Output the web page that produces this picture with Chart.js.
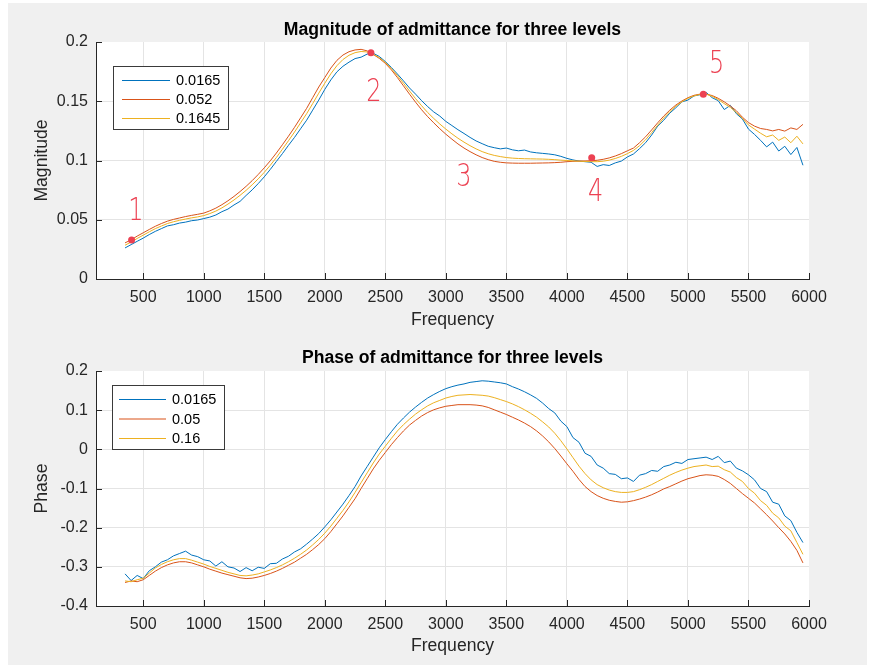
<!DOCTYPE html>
<html><head><meta charset="utf-8">
<script src="https://cdn.jsdelivr.net/npm/chart.js@4.4.1/dist/chart.umd.min.js"></script>
<style>
html,body{margin:0;padding:0;background:#fff;width:873px;height:665px;overflow:hidden}
#fig{position:absolute;left:8px;top:3px;width:859px;height:662px;background:#f0f0f0}
#c1{position:absolute;left:0;top:0}
#c2{position:absolute;left:0;top:333px}
</style></head><body>
<div id="fig"></div>
<canvas id="c1" width="873" height="333"></canvas>
<canvas id="c2" width="873" height="332"></canvas>
<script>
// ---------------- data ----------------
const FREQ = [
 350,400,450,500,550,600,650,700,750,800,
 850,900,950,1000,1050,1100,1150,1200,1250,1300,
 1350,1400,1450,1500,1550,1600,1650,1700,1750,1800,
 1850,1900,1950,2000,2050,2100,2150,2200,2250,2300,
 2350,2400,2450,2500,2550,2600,2650,2700,2750,2800,
 2850,2900,2950,3000,3050,3100,3150,3200,3250,3300,
 3350,3400,3450,3500,3550,3600,3650,3700,3750,3800,
 3850,3900,3950,4000,4050,4100,4150,4200,4250,4300,
 4350,4400,4450,4500,4550,4600,4650,4700,4750,4800,
 4850,4900,4950,5000,5050,5100,5150,5200,5250,5300,
 5350,5400,5450,5500,5550,5600,5650,5700,5750,5800,
 5850,5900,5950];

const MAG_LEGEND = ['0.0165', '0.052', '0.1645'];
const PH_LEGEND = ['0.0165', '0.05', '0.16'];

const MAG_A = [
 0.0262,0.0290,0.0318,0.0345,0.0375,0.0402,0.0425,0.0448,0.0458,0.0472,
 0.0480,0.0492,0.0498,0.0510,0.0522,0.0540,0.0568,0.0590,0.0625,0.0655,
 0.0705,0.0752,0.0805,0.0862,0.0925,0.0992,0.1058,0.1128,0.1195,0.1268,
 0.1340,0.1425,0.1510,0.1600,0.1680,0.1748,0.1795,0.1830,0.1860,0.1872,
 0.1898,0.1905,0.1878,0.1835,0.1785,0.1730,0.1672,0.1612,0.1560,0.1505,
 0.1455,0.1410,0.1375,0.1330,0.1295,0.1260,0.1228,0.1195,0.1165,0.1142,
 0.1120,0.1108,0.1098,0.1105,0.1090,0.1082,0.1088,0.1072,0.1065,0.1060,
 0.1055,0.1048,0.1035,0.1018,0.1005,0.0995,0.0990,0.0985,0.0950,0.0965,
 0.0958,0.0980,0.0995,0.1030,0.1055,0.1100,0.1150,0.1215,0.1290,0.1340,
 0.1400,0.1445,0.1495,0.1510,0.1545,0.1555,0.1575,0.1530,0.1505,0.1430,
 0.1465,0.1395,0.1350,0.1265,0.1220,0.1170,0.1115,0.1155,0.1080,0.1120,
 0.1050,0.1110,0.0960];

const MAG_B = [
 0.0305,0.0330,0.0362,0.0390,0.0418,0.0445,0.0468,0.0488,0.0503,0.0515,
 0.0527,0.0537,0.0546,0.0556,0.0575,0.0598,0.0627,0.0660,0.0697,0.0738,
 0.0782,0.0830,0.0882,0.0938,0.0998,0.1063,0.1133,0.1205,0.1280,0.1360,
 0.1440,0.1530,0.1620,0.1700,0.1780,0.1845,0.1890,0.1918,0.1933,0.1938,
 0.1925,0.1895,0.1862,0.1820,0.1765,0.1700,0.1630,0.1560,0.1492,0.1428,
 0.1370,0.1318,0.1268,0.1222,0.1180,0.1140,0.1105,0.1075,0.1048,0.1025,
 0.1007,0.0993,0.0985,0.0980,0.0978,0.0977,0.0977,0.0977,0.0978,0.0979,
 0.0980,0.0982,0.0985,0.0990,0.0993,0.0995,0.0996,0.0998,0.1002,0.1010,
 0.1022,0.1038,0.1058,0.1082,0.1105,0.1150,0.1200,0.1258,0.1318,0.1375,
 0.1425,0.1468,0.1502,0.1530,0.1550,0.1560,0.1560,0.1548,0.1525,0.1495,
 0.1460,0.1420,0.1365,0.1320,0.1290,0.1270,0.1262,0.1250,0.1262,0.1248,
 0.1275,0.1262,0.1305];

const MAG_C = [
 0.0285,0.0312,0.0342,0.0370,0.0398,0.0425,0.0447,0.0468,0.0483,0.0495,
 0.0506,0.0516,0.0524,0.0535,0.0552,0.0573,0.0600,0.0632,0.0667,0.0706,
 0.0748,0.0795,0.0845,0.0900,0.0960,0.1025,0.1095,0.1167,0.1240,0.1318,
 0.1395,0.1480,0.1568,0.1652,0.1732,0.1800,0.1852,0.1888,0.1910,0.1920,
 0.1916,0.1898,0.1868,0.1828,0.1776,0.1716,0.1652,0.1586,0.1522,0.1462,
 0.1405,0.1355,0.1308,0.1265,0.1225,0.1188,0.1155,0.1125,0.1098,0.1075,
 0.1057,0.1043,0.1033,0.1025,0.1020,0.1017,0.1015,0.1014,0.1013,0.1012,
 0.1010,0.1007,0.1003,0.1000,0.0997,0.0994,0.0992,0.0990,0.0990,0.0994,
 0.1003,0.1017,0.1035,0.1058,0.1085,0.1125,0.1175,0.1235,0.1298,0.1358,
 0.1412,0.1458,0.1495,0.1525,0.1545,0.1558,0.1560,0.1542,0.1515,0.1480,
 0.1448,0.1405,0.1355,0.1300,0.1265,0.1230,0.1200,0.1215,0.1170,0.1198,
 0.1150,0.1205,0.1140];

const PH_A = [
 -0.318,-0.335,-0.322,-0.330,-0.310,-0.300,-0.288,-0.282,-0.272,-0.266,
 -0.260,-0.270,-0.274,-0.282,-0.285,-0.298,-0.287,-0.300,-0.303,-0.312,
 -0.302,-0.310,-0.301,-0.304,-0.292,-0.291,-0.280,-0.273,-0.262,-0.254,
 -0.242,-0.229,-0.215,-0.198,-0.180,-0.160,-0.140,-0.118,-0.095,-0.068,
 -0.044,-0.020,0.004,0.025,0.045,0.064,0.080,0.095,0.108,0.120,
 0.131,0.140,0.148,0.155,0.160,0.164,0.167,0.171,0.173,0.175,
 0.174,0.172,0.170,0.167,0.160,0.154,0.147,0.139,0.130,0.118,
 0.104,0.093,0.072,0.058,0.030,0.018,-0.010,-0.018,-0.040,-0.048,
 -0.062,-0.064,-0.075,-0.073,-0.082,-0.066,-0.062,-0.054,-0.056,-0.044,
 -0.040,-0.033,-0.036,-0.026,-0.024,-0.022,-0.020,-0.026,-0.018,-0.034,
 -0.030,-0.048,-0.055,-0.065,-0.078,-0.100,-0.108,-0.135,-0.140,-0.170,
 -0.182,-0.212,-0.238];

const PH_B = [
 -0.340,-0.336,-0.338,-0.333,-0.322,-0.311,-0.302,-0.295,-0.290,-0.287,
 -0.287,-0.290,-0.295,-0.300,-0.306,-0.311,-0.316,-0.320,-0.324,-0.328,
 -0.330,-0.329,-0.326,-0.322,-0.317,-0.311,-0.304,-0.296,-0.288,-0.278,
 -0.268,-0.256,-0.243,-0.228,-0.210,-0.190,-0.170,-0.148,-0.126,-0.100,
 -0.075,-0.050,-0.028,-0.008,0.012,0.030,0.047,0.062,0.074,0.085,
 0.094,0.101,0.106,0.110,0.112,0.114,0.114,0.114,0.113,0.111,
 0.107,0.101,0.095,0.089,0.082,0.075,0.067,0.058,0.047,0.034,
 0.019,0.002,-0.017,-0.037,-0.056,-0.077,-0.095,-0.108,-0.118,-0.125,
 -0.130,-0.133,-0.135,-0.134,-0.131,-0.127,-0.122,-0.116,-0.109,-0.101,
 -0.095,-0.088,-0.081,-0.075,-0.071,-0.067,-0.065,-0.066,-0.069,-0.077,
 -0.087,-0.100,-0.113,-0.125,-0.137,-0.152,-0.167,-0.183,-0.200,-0.216,
 -0.235,-0.258,-0.290];

const PH_C = [
 -0.336,-0.338,-0.333,-0.329,-0.316,-0.303,-0.294,-0.287,-0.282,-0.279,
 -0.279,-0.283,-0.288,-0.293,-0.299,-0.304,-0.309,-0.314,-0.318,-0.322,
 -0.323,-0.321,-0.318,-0.313,-0.308,-0.302,-0.295,-0.287,-0.278,-0.268,
 -0.257,-0.244,-0.230,-0.214,-0.196,-0.176,-0.156,-0.134,-0.110,-0.085,
 -0.060,-0.035,-0.012,0.008,0.028,0.047,0.063,0.077,0.090,0.101,
 0.111,0.119,0.125,0.131,0.135,0.138,0.139,0.140,0.139,0.138,
 0.136,0.132,0.127,0.122,0.116,0.109,0.101,0.092,0.082,0.070,
 0.057,0.041,0.022,0.001,-0.021,-0.043,-0.062,-0.078,-0.090,-0.098,
 -0.104,-0.108,-0.110,-0.110,-0.108,-0.103,-0.097,-0.090,-0.082,-0.074,
 -0.066,-0.059,-0.053,-0.048,-0.044,-0.042,-0.040,-0.044,-0.043,-0.052,
 -0.058,-0.072,-0.082,-0.100,-0.112,-0.131,-0.143,-0.163,-0.175,-0.196,
 -0.208,-0.238,-0.268];

// marked points on the magnitude plot
const MARK_F = [404, 2381, 4205, 5127];
const MARK_MAG = [0.0330, 0.1910, 0.1024, 0.1560];
// handwritten numbers on the magnitude plot
const NOTE_TEXT = ['1', '2', '3', '4', '5'];
const NOTE_F = [440, 2406, 3150, 4238, 5237];
const NOTE_MAG = [0.0565, 0.157, 0.0852, 0.0726, 0.1806];

const X_TICKS = [500,1000,1500,2000,2500,3000,3500,4000,4500,5000,5500,6000];

// ---------------- style ----------------
const FONT = '"Liberation Sans", Arial, Helvetica, sans-serif';
const AXIS_COLOR = '#262626';
const GRID_COLOR = '#e4e4e4';
const COLORS = ['#0072BD', '#D95319', '#EDB120'];
const RED = '#ec4152';

function series(ys) { return FREQ.map((f, i) => ({x: f, y: ys[i]})); }
function fmt(v) { return String(parseFloat(Number(v).toFixed(4))); }

const figPlugin = {
  id: 'figdeco',
  beforeDraw(chart) {
    const {ctx, chartArea: a} = chart;
    ctx.save();
    ctx.fillStyle = '#ffffff';
    ctx.fillRect(a.left, a.top, a.right - a.left, a.bottom - a.top);
    ctx.restore();
  },
  afterDraw(chart) {
    const o = chart.options.plugins.figdeco;
    const {ctx, chartArea: a, scales: {x, y}} = chart;
    ctx.save();
    // inward tick marks
    ctx.strokeStyle = AXIS_COLOR; ctx.lineWidth = 1;
    ctx.beginPath();
    x.ticks.forEach(t => { const px = Math.round(x.getPixelForValue(t.value)) + 0.5; ctx.moveTo(px, a.bottom); ctx.lineTo(px, a.bottom - 6); });
    y.ticks.forEach(t => { const py = Math.round(y.getPixelForValue(t.value)) + 0.5; ctx.moveTo(a.left, py); ctx.lineTo(a.left + 6, py); });
    ctx.stroke();
    // title
    ctx.fillStyle = '#000';
    ctx.font = 'bold 17.6px ' + FONT;
    ctx.textAlign = 'center'; ctx.textBaseline = 'middle';
    ctx.fillText(o.title, (a.left + a.right) / 2, o.titleY);
    // legend
    const L = o.legend;
    const bx = a.left + L.dx, by = a.top + L.dy;
    ctx.fillStyle = '#fff';
    ctx.fillRect(bx, by, L.w, L.h);
    ctx.strokeStyle = '#3a3a3a'; ctx.lineWidth = 1;
    ctx.strokeRect(bx + 0.5, by + 0.5, L.w, L.h);
    ctx.font = '14.5px ' + FONT;
    ctx.textAlign = 'left';
    o.labels.forEach((lab, i) => {
      const ry = by + L.row0 + i * L.rowGap;
      ctx.strokeStyle = COLORS[i]; ctx.lineWidth = 1.2;
      ctx.beginPath(); ctx.moveTo(bx + L.l0, ry + 0.5); ctx.lineTo(bx + L.l1, ry + 0.5); ctx.stroke();
      ctx.fillStyle = '#000';
      ctx.fillText(lab, bx + L.tx, ry + 1);
    });
    // handwritten notes
    if (o.notes) {
      ctx.fillStyle = RED;
      ctx.font = '200 30px "DejaVu Sans", sans-serif';
      ctx.textAlign = 'center'; ctx.textBaseline = 'middle';
      NOTE_TEXT.forEach((t, i) => {
        const px = x.getPixelForValue(NOTE_F[i]), py = y.getPixelForValue(NOTE_MAG[i]);
        ctx.save(); ctx.translate(px, py); ctx.scale(0.8, 1.05);
        ctx.fillText(t, 0, 0);
        ctx.restore();
      });
    }
    ctx.restore();
  }
};

function makeOptions(cfg) {
  return {
    responsive: false, animation: false, devicePixelRatio: 1,
    layout: {padding: {top: cfg.top, right: 64, left: 0, bottom: 0}},
    plugins: {
      legend: {display: false}, tooltip: {enabled: false},
      figdeco: cfg.deco
    },
    elements: {point: {radius: 0}, line: {borderWidth: 1, tension: 0}},
    scales: {
      x: {
        type: 'linear', min: 110, max: 6000,
        afterBuildTicks: s => { s.ticks = X_TICKS.map(v => ({value: v})); },
        afterFit: s => { s.height = cfg.height - cfg.bottom; },
        ticks: {font: {family: FONT, size: 16}, color: AXIS_COLOR, padding: 9, maxRotation: 0, autoSkip: false,
          callback: v => String(v)},
        grid: {color: ctx => (ctx.tick && ctx.tick.value === 6000) ? 'rgba(0,0,0,0)' : GRID_COLOR, drawTicks: false},
        border: {color: AXIS_COLOR, width: 1},
        title: {display: true, text: 'Frequency', color: AXIS_COLOR, font: {family: FONT, size: 17.6}, padding: {top: 0, bottom: cfg.xtPad}}
      },
      y: {
        min: cfg.ymin, max: cfg.ymax,
        ticks: {stepSize: cfg.ystep, font: {family: FONT, size: 16}, color: AXIS_COLOR, padding: 8, callback: v => fmt(v)},
        afterFit: s => { s.width = 96; },
        grid: {color: ctx => (ctx.tick && Math.abs(ctx.tick.value - cfg.ymax) < 1e-9) ? 'rgba(0,0,0,0)' : GRID_COLOR, drawTicks: false},
        border: {color: AXIS_COLOR, width: 1},
        title: {display: true, text: cfg.ylabel, color: AXIS_COLOR, font: {family: FONT, size: 17.6}, padding: {top: 31.4, bottom: 0}}
      }
    }
  };
}

function lineSet(label, ys, i) {
  return {label: label, data: series(ys), borderColor: COLORS[i], backgroundColor: COLORS[i], borderWidth: 1, pointRadius: 0, order: 3 - i, fill: false};
}

new Chart(document.getElementById('c1'), {
  type: 'line',
  data: {datasets: [
    lineSet(MAG_LEGEND[0], MAG_A, 0),
    lineSet(MAG_LEGEND[1], MAG_B, 1),
    lineSet(MAG_LEGEND[2], MAG_C, 2),
    {type: 'scatter', label: 'marks', data: MARK_F.map((f, i) => ({x: f, y: MARK_MAG[i]})), pointRadius: 3.5, backgroundColor: RED, borderWidth: 0, order: 0}
  ]},
  options: makeOptions({top: 42, height: 333, bottom: 279, xtPad: 2.4, ymin: 0, ymax: 0.2, ystep: 0.05, ylabel: 'Magnitude',
    deco: {title: 'Magnitude of admittance for three levels', titleY: 30, labels: MAG_LEGEND, notes: true,
      legend: {dx: 17, dy: 24, w: 115, h: 63, row0: 14, rowGap: 19, l0: 9, l1: 57, tx: 63}}}),
  plugins: [figPlugin]
});

new Chart(document.getElementById('c2'), {
  type: 'line',
  data: {datasets: [
    lineSet(PH_LEGEND[0], PH_A, 0),
    lineSet(PH_LEGEND[1], PH_B, 1),
    lineSet(PH_LEGEND[2], PH_C, 2)
  ]},
  options: makeOptions({top: 38, height: 332, bottom: 273, xtPad: 8.4, ymin: -0.4, ymax: 0.2, ystep: 0.1, ylabel: 'Phase',
    deco: {title: 'Phase of admittance for three levels', titleY: 25, labels: PH_LEGEND, notes: false,
      legend: {dx: 16, dy: 14, w: 112, h: 64, row0: 14, rowGap: 19.5, l0: 7, l1: 54, tx: 60}}}),
  plugins: [figPlugin]
});
</script>
</body></html>
